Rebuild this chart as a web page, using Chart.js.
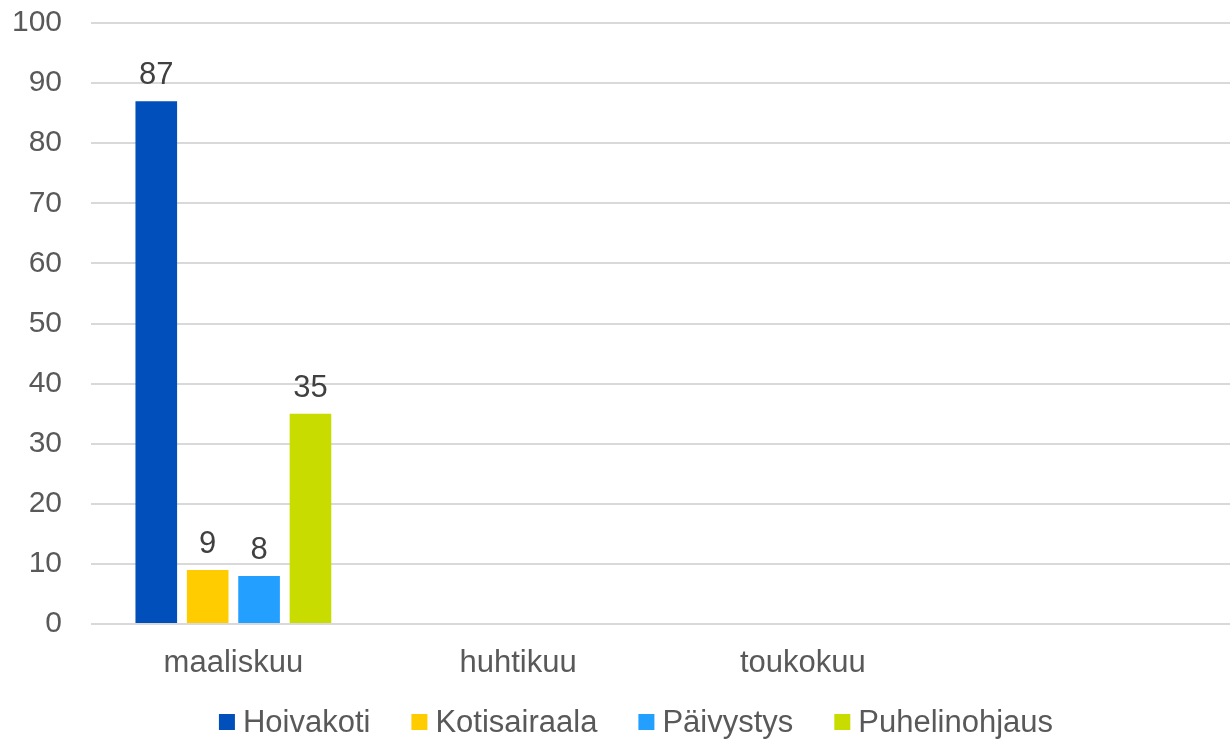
<!DOCTYPE html>
<html>
<head>
<meta charset="utf-8">
<script src="https://cdn.jsdelivr.net/npm/chart.js@4/dist/chart.umd.min.js"></script>
<style>
  html, body { margin: 0; padding: 0; background: #fff; }
  #wrap { width: 1230px; height: 740px; }
</style>
</head>
<body>
<div id="wrap"><canvas id="c" width="1230" height="740"></canvas></div>
<script>
const months = ['maaliskuu', 'huhtikuu', 'toukokuu', ''];
const hoivakoti = [87, null, null, null];
const kotisairaala = [9, null, null, null];
const paivystys = [8, null, null, null];
const puhelinohjaus = [35, null, null, null];
const yTicks = [0, 10, 20, 30, 40, 50, 60, 70, 80, 90, 100];

const FONT = 'Liberation Sans, Arial, sans-serif';
const FSIZE = 31;

// labels above bars
const valueLabels = {
  id: 'valueLabels',
  afterDatasetsDraw(chart) {
    const ctx = chart.ctx;
    ctx.save();
    ctx.font = FSIZE + 'px ' + FONT;
    ctx.fillStyle = '#404040';
    ctx.textAlign = 'center';
    ctx.textBaseline = 'alphabetic';
    chart.data.datasets.forEach((ds, i) => {
      chart.getDatasetMeta(i).data.forEach((bar, j) => {
        const v = ds.data[j];
        if (v == null) return;
        ctx.fillText(String(v), bar.x, bar.y - 17);
      });
    });
    ctx.restore();
  }
};

// legend row at the bottom, squares + names
const bottomLegend = {
  id: 'bottomLegend',
  afterDraw(chart) {
    const ctx = chart.ctx;
    ctx.save();
    ctx.font = FSIZE + 'px ' + FONT;
    ctx.textBaseline = 'middle';
    const box = 16, gapText = 8, gapItem = 41;
    const items = chart.data.datasets.map(ds => ({
      label: ds.label, color: ds.backgroundColor,
      w: box + gapText + ctx.measureText(ds.label).width
    }));
    const total = items.reduce((a, it) => a + it.w, 0) + gapItem * (items.length - 1);
    let x = 636 - total / 2;
    const y = 722;
    items.forEach(it => {
      ctx.fillStyle = it.color;
      ctx.fillRect(x, y - box / 2, box, box);
      ctx.fillStyle = '#595959';
      ctx.fillText(it.label, x + box + gapText, y + 1);
      x += it.w + gapItem;
    });
    ctx.restore();
  }
};

new Chart(document.getElementById('c'), {
  type: 'bar',
  data: {
    labels: months,
    datasets: [
      { label: 'Hoivakoti', data: hoivakoti, backgroundColor: '#004FBB' },
      { label: 'Kotisairaala', data: kotisairaala, backgroundColor: '#FFCC00' },
      { label: 'Päivystys', data: paivystys, backgroundColor: '#229FFF' },
      { label: 'Puhelinohjaus', data: puhelinohjaus, backgroundColor: '#C8DC00' }
    ]
  },
  options: {
    responsive: false,
    animation: false,
    layout: { padding: { top: 23, right: -13, left: 0, bottom: 38 } },
    datasets: { bar: { categoryPercentage: 0.722, barPercentage: 0.81 } },
    scales: {
      x: {
        grid: { display: false },
        border: { display: false },
        ticks: { color: '#595959', font: { family: FONT, size: FSIZE }, padding: 13 },
        afterFit(s) { s.height = 78; }
      },
      y: {
        min: 0, max: 100,
        afterBuildTicks(s) { s.ticks = yTicks.map(v => ({ value: v })); },
        grid: { color: '#D9D9D9', lineWidth: 2, drawTicks: false },
        border: { display: false },
        ticks: { color: '#595959', font: { family: FONT, size: 30 }, padding: 29 },
        afterFit(s) { s.width = 91; s.paddingTop = 0; s.paddingBottom = 0; }
      }
    },
    plugins: {
      legend: { display: false },
      tooltip: { enabled: false }
    }
  },
  plugins: [valueLabels, bottomLegend]
});
</script>
</body>
</html>
